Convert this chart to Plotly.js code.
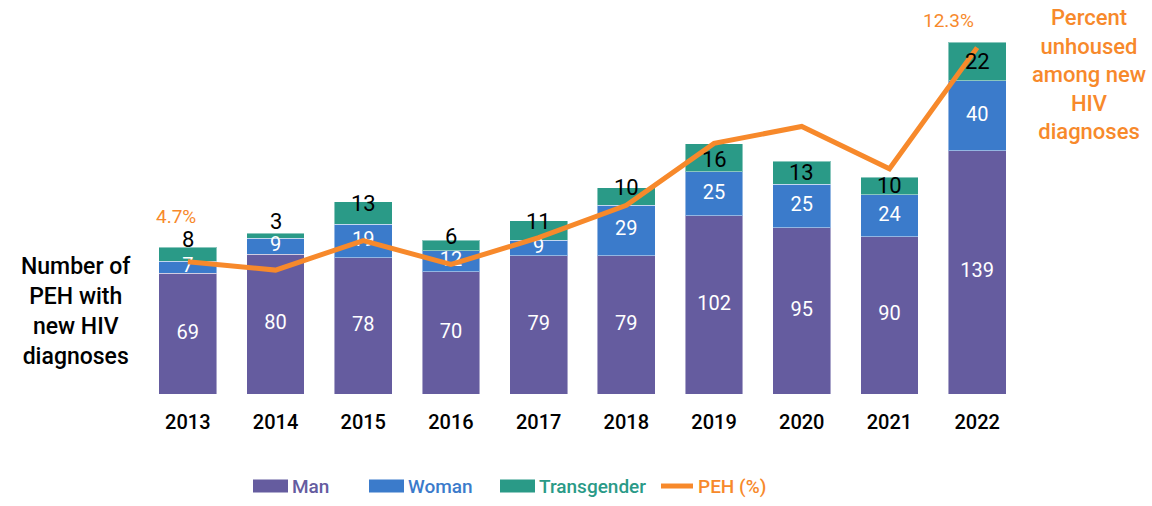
<!DOCTYPE html>
<html>
<head>
<meta charset="utf-8">
<script src="https://cdn.plot.ly/plotly-3.0.1.min.js"></script>
<style>html,body{margin:0;padding:0;background:#fff;}#chart{width:1152px;height:506px;}</style>
</head>
<body>
<div id="chart"></div>
<script>
// ---- data ----
const years = [2013, 2014, 2015, 2016, 2017, 2018, 2019, 2020, 2021, 2022];
const man = [69, 80, 78, 70, 79, 79, 102, 95, 90, 139];
const woman = [7, 9, 19, 12, 9, 29, 25, 25, 24, 40];
const transgender = [8, 3, 13, 6, 11, 10, 16, 13, 10, 22];
const pehPct = [4.7, 4.4, 5.45, 4.6, 5.55, 6.7, 8.9, 9.5, 8.0, 12.3];
const seriesNames = ['Man', 'Woman', 'Transgender', 'PEH (%)'];
const leftTitle = 'Number of<br>PEH with<br>new HIV<br>diagnoses';
const rightTitle = 'Percent<br>unhoused<br>among new<br>HIV<br>diagnoses';

// ---- style ----
const FONT = 'Roboto, "Noto Sans", sans-serif';
const colors = ['#655C9F', '#3B7BCB', '#2A9A87', '#F7892B'];
// label placement for the top segment: anchored at the stack top (with pixel shift) or centred
const tgAtTop = [true, true, true, true, true, true, false, false, false, false];
const tgShiftPx = [8, 12, -2, 4, -1, 0, -2, 0, 0, 0];

const barLine = {color: 'rgba(255,255,255,0.45)', width: 1};
const traces = [];
[man, woman, transgender].forEach((vals, i) => {
  traces.push({
    type: 'bar', x: years, y: vals, name: seriesNames[i],
    marker: {color: colors[i], line: barLine},
    hoverinfo: 'skip', showlegend: false
  });
});
// line on secondary axis
traces.push({
  type: 'scatter', mode: 'lines', x: years, y: pehPct, yaxis: 'y2',
  line: {color: colors[3], width: 5}, name: seriesNames[3], showlegend: false, hoverinfo: 'skip'
});
// segment labels (drawn above line)
const manMid = man.map(v => v / 2);
const womanMid = man.map((m, i) => m + woman[i] / 2);
traces.push({type: 'scatter', mode: 'text', x: years, y: manMid, text: man.map(String),
  textfont: {family: FONT, size: 20, color: '#ffffff'}, textposition: 'middle center', showlegend: false, hoverinfo: 'skip', cliponaxis: false});
traces.push({type: 'scatter', mode: 'text', x: years, y: womanMid, text: woman.map(String),
  textfont: {family: FONT, size: 20, color: '#ffffff'}, textposition: 'middle center', showlegend: false, hoverinfo: 'skip', cliponaxis: false});

const annotations = [];
years.forEach((yr, i) => {
  const top = man[i] + woman[i] + transgender[i];
  annotations.push({x: yr, y: tgAtTop[i] ? top : top - transgender[i] / 2, xref: 'x', yref: 'y',
    showarrow: false, text: String(transgender[i]), yshift: tgShiftPx[i],
    font: {family: FONT, size: 22, color: '#000'}});
});
annotations.push(
  {xref: 'paper', yref: 'paper', x: -0.078, y: 0.215, xanchor: 'center', yanchor: 'middle', showarrow: false,
   text: leftTitle, font: {family: FONT, size: 23, color: '#000', weight: 500}, align: 'center'},
  {xref: 'paper', yref: 'paper', x: 1.078, y: 0.83, xanchor: 'center', yanchor: 'middle', showarrow: false,
   text: rightTitle, font: {family: FONT, size: 22, color: colors[3], weight: 500}, align: 'center'},
  {x: years[0], y: pehPct[0], yref: 'y2', xref: 'x', showarrow: false, text: pehPct[0].toFixed(1) + '%',
   xshift: -12, yshift: 45, font: {family: FONT, size: 19, color: colors[3]}},
  {x: years[9], y: pehPct[9], yref: 'y2', xref: 'x', showarrow: false, text: pehPct[9].toFixed(1) + '%',
   xshift: -29, yshift: 27, font: {family: FONT, size: 19, color: colors[3]}}
);

// custom legend: swatches and names from the series
const legendX = [253, 369, 500, 659];
const shapes = [];
const W = 1152, L = 144, R = 131, PW = W - L - R;
const px = v => (v - L) / PW;
legendX.forEach((lx, i) => {
  if (i < 3) {
    shapes.push({type: 'rect', xref: 'paper', yref: 'paper', x0: px(lx), x1: px(lx + 35),
      y0: -0.222, y1: -0.256, fillcolor: colors[i], line: {width: 0}});
  } else {
    shapes.push({type: 'line', xref: 'paper', yref: 'paper', x0: px(lx + 2), x1: px(lx + 34),
      y0: -0.239, y1: -0.239, line: {color: colors[i], width: 5}});
  }
  annotations.push({xref: 'paper', yref: 'paper', x: px(lx + 37), y: -0.239, xanchor: 'left', yanchor: 'middle',
    showarrow: false, text: seriesNames[i], font: {family: FONT, size: 19, color: colors[i], weight: 500}});
});

const layout = {
  width: 1152, height: 506,
  margin: {l: L, r: R, t: 9, b: 112},
  barmode: 'stack', bargap: 0.34,
  paper_bgcolor: '#fff', plot_bgcolor: '#fff',
  font: {family: FONT, color: '#000'},
  showlegend: false,
  xaxis: {type: 'linear', range: [2012.5, 2022.5], tickvals: years, ticktext: years.map(String),
    showgrid: false, zeroline: false, showline: false, ticks: '', ticklabelstandoff: 14,
    tickfont: {family: FONT, size: 20, color: '#000', weight: 500}, fixedrange: true},
  yaxis: {range: [0, 220], visible: false, showgrid: false, zeroline: false, fixedrange: true},
  yaxis2: {range: [0, 385 / 28.16], overlaying: 'y', side: 'right', visible: false, showgrid: false, zeroline: false},
  annotations: annotations,
  shapes: shapes
};

Plotly.newPlot('chart', traces, layout, {displayModeBar: false, staticPlot: true});
</script>
</body>
</html>
